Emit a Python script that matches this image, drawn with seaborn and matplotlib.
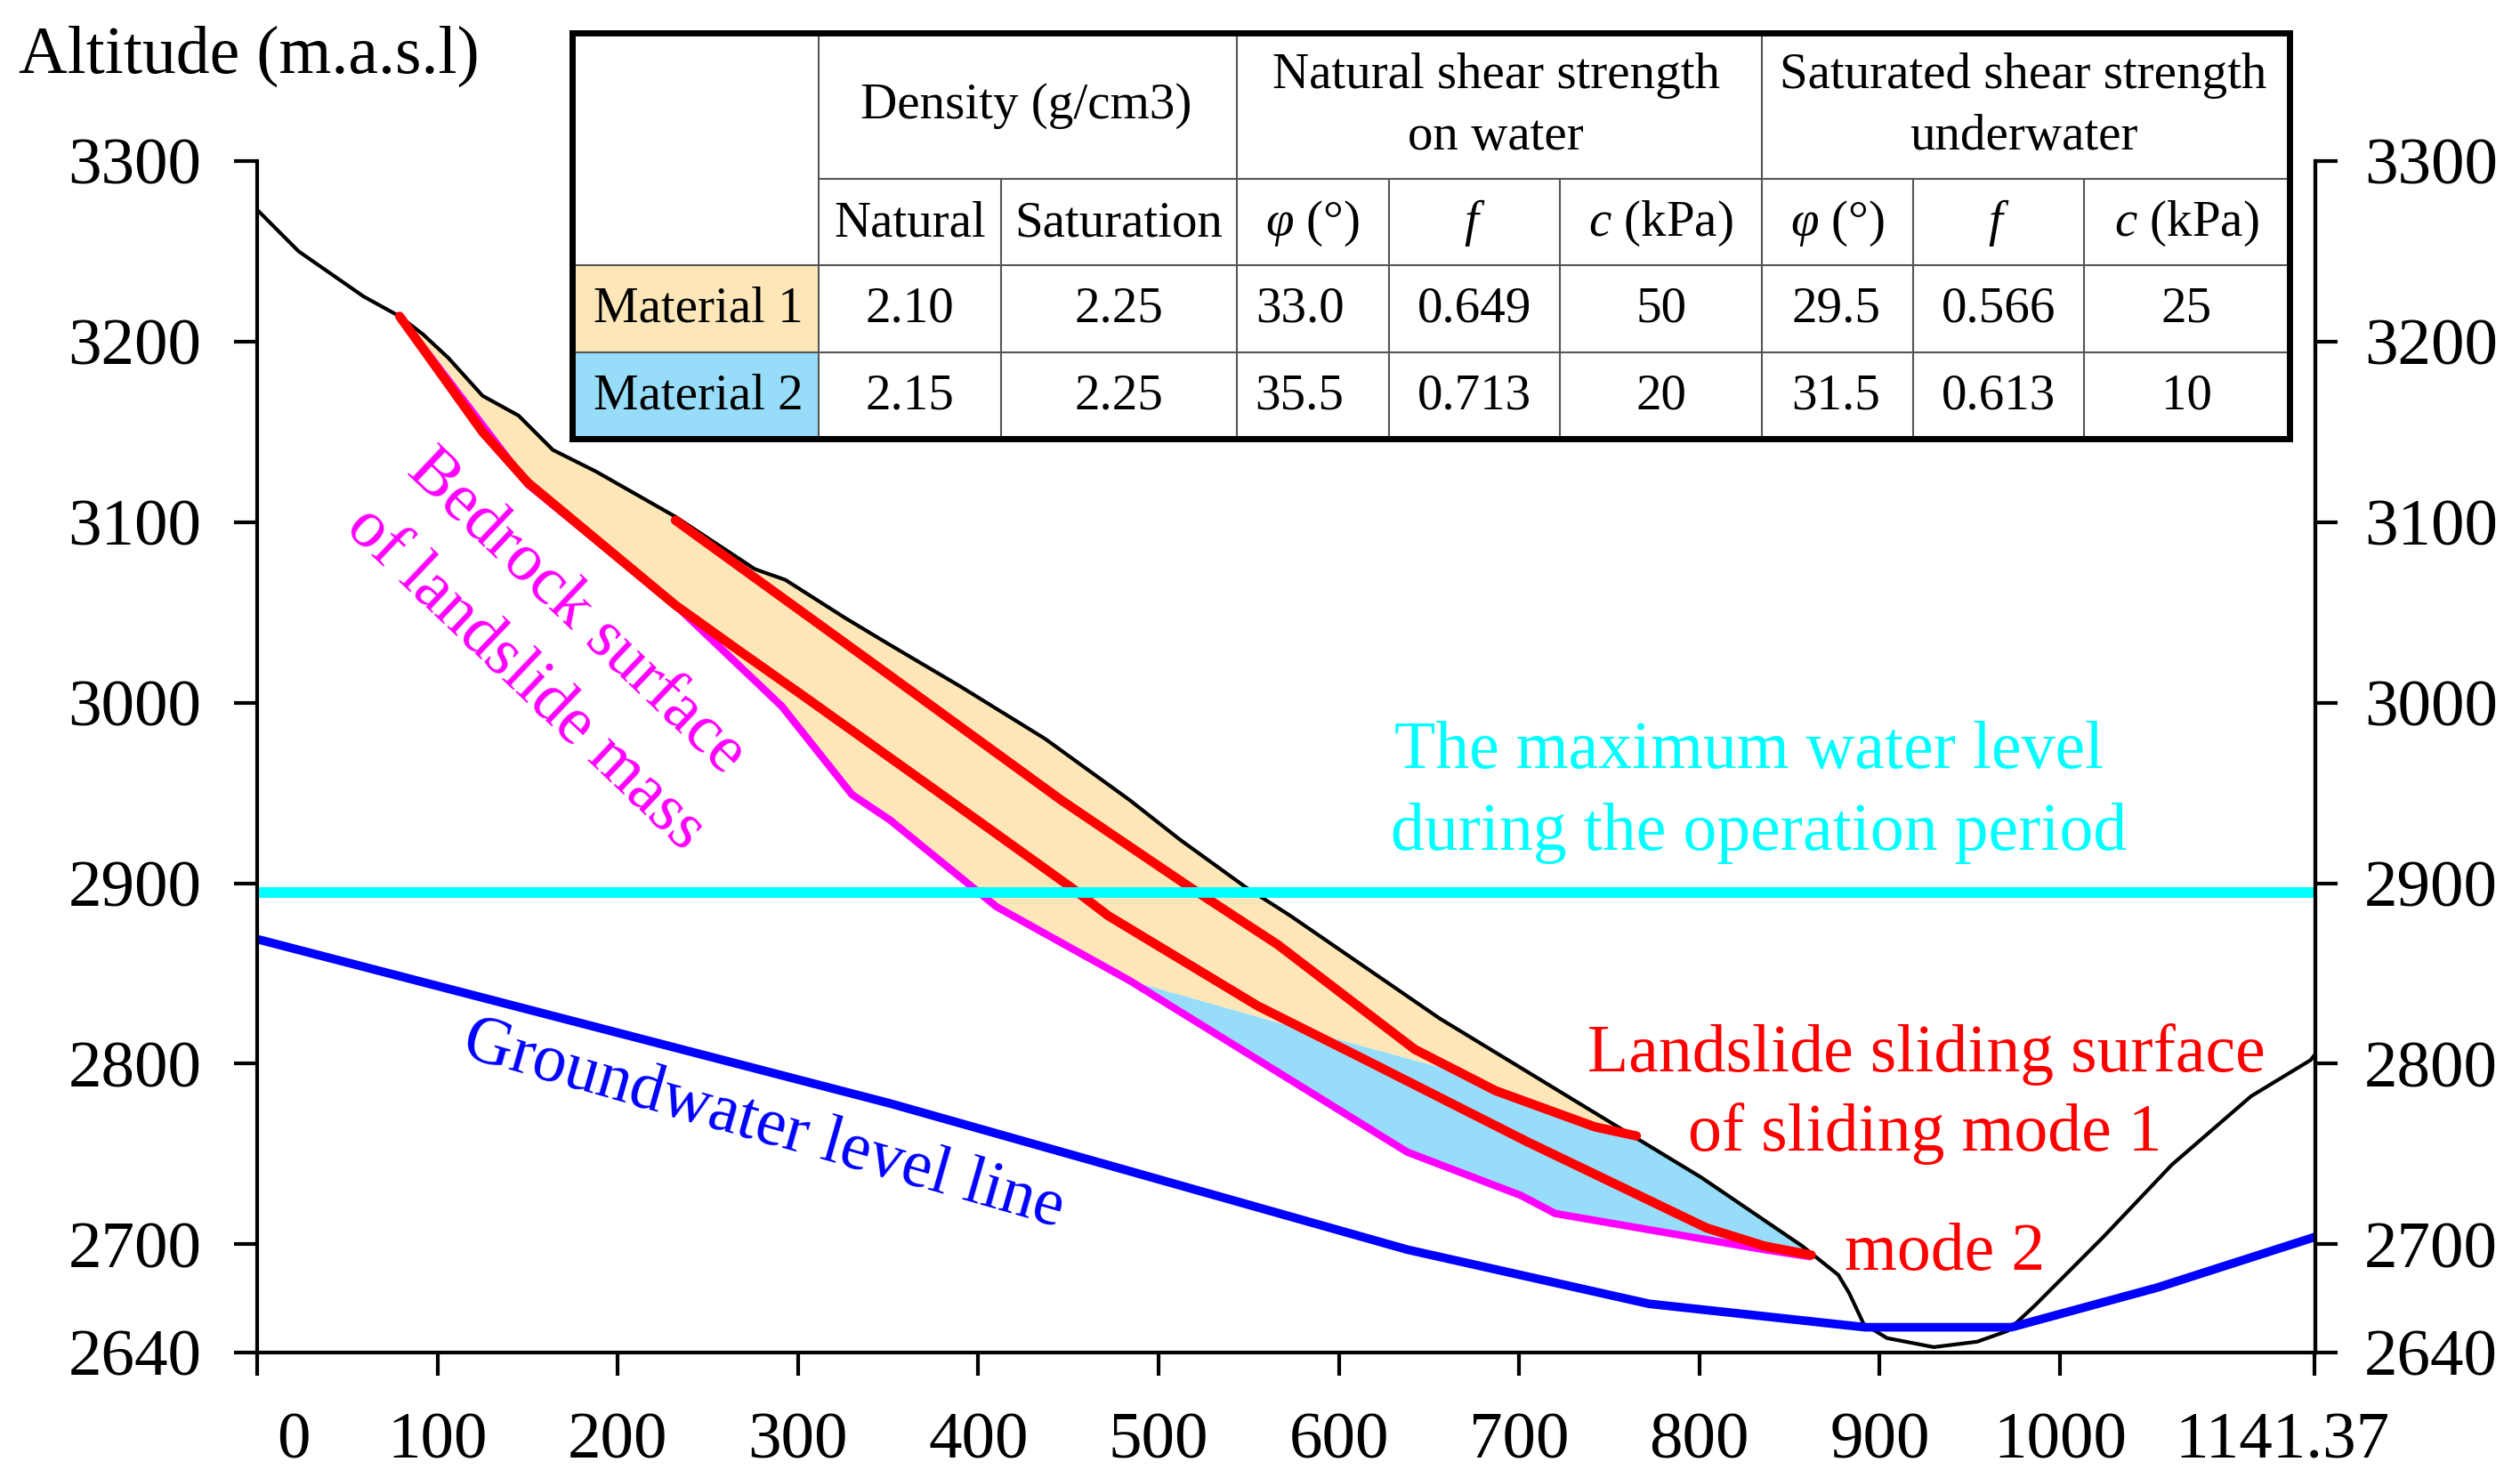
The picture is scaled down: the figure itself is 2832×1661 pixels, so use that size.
import matplotlib
matplotlib.use('Agg')
import matplotlib.pyplot as plt
from matplotlib.transforms import ScaledTranslation
import seaborn as sns

W, H = 2832, 1661

# Profile lines (distance, altitude)
terrain_x = [0, 23, 59, 79, 92, 106, 125, 145, 164, 188, 232, 276, 293, 326, 351, 390, 437, 484, 512, 548, 573, 656, 763, 801, 857, 877, 883, 891, 904, 930, 954, 971, 986, 1024, 1062, 1106, 1139, 1141.37]
terrain_y = [3273, 3250, 3225, 3214, 3204, 3191, 3170, 3159, 3140, 3128, 3103, 3074, 3068, 3047, 3032, 3009, 2980, 2946, 2924, 2898, 2882, 2825, 2760, 2737, 2699, 2683, 2673, 2656, 2648, 2643, 2646, 2652, 2666, 2704, 2744, 2782, 2802, 2805]

mode1_x = [232, 351, 446, 517, 566, 642, 687, 742, 765]
mode1_y = [3101, 3015, 2946, 2898, 2866, 2808, 2785, 2765, 2760]

mode2_x = [79, 92, 125, 150, 232, 267, 304, 377, 451, 472, 555, 611, 704, 804, 836, 862]
mode2_y = [3214, 3196, 3150, 3122, 3054, 3029, 3003, 2951, 2898, 2882, 2832, 2804, 2757, 2709, 2699, 2694]

bedrock_x = [79, 150, 232, 291, 330, 351, 410, 484, 638, 701, 720, 836, 862]
bedrock_y = [3214, 3121, 3054, 2998, 2949, 2935, 2887, 2846, 2751, 2727, 2717, 2697, 2693]

water_x = [0, 351, 638, 772, 892, 973, 1054, 1141.37]
water_y = [2869, 2778, 2697, 2667, 2654, 2654, 2676, 2704]

max_level_x = [0, 1141.37]
max_level_y = [2895, 2895]

# boundary between the two materials
split_x = [484, 590, 656]
split_y = [2846, 2816, 2798]

# table contents
materials = ['Material 1', 'Material 2']
density_natural = ['2.10', '2.15']
density_saturated = ['2.25', '2.25']
phi_natural = ['33.0', '35.5']
f_natural = ['0.649', '0.713']
c_natural = ['50', '20']
phi_saturated = ['29.5', '31.5']
f_saturated = ['0.566', '0.613']
c_saturated = ['25', '10']
sub_headers = ['Natural', 'Saturation', '$φ$ (°)', '$f$', '$c$ (kPa)', '$φ$ (°)', '$f$', '$c$ (kPa)']

x_ticks = [0, 100, 200, 300, 400, 500, 600, 700, 800, 900, 1000, 1141.37]
x_labels = ['0', '100', '200', '300', '400', '500', '600', '700', '800', '900', '1000', '1141.37']
y_ticks = [2640, 2700, 2800, 2900, 3000, 3100, 3200, 3300]

sns.set_style('ticks', rc={'text.color': 'black', 'xtick.color': 'black', 'ytick.color': 'black',
                           'axes.edgecolor': 'black', 'axes.labelcolor': 'black'})
plt.rcParams['font.family'] = ['Liberation Serif', 'DejaVu Serif']
plt.rcParams['mathtext.fontset'] = 'custom'
plt.rcParams['mathtext.rm'] = 'Liberation Serif'
plt.rcParams['mathtext.it'] = 'Liberation Serif:italic'

ORANGE = '#FDE7B9'
BLUE = '#97DDF9'

fig = plt.figure(figsize=(W / 100, H / 100), dpi=100)
ax = fig.add_axes([289 / W, 1 - 1520 / H, (2601.5 - 289) / W, (1520 - 181) / H])

# material areas
top_x = [x for x in terrain_x if 79 <= x <= 763]
top_y = [y for x, y in zip(terrain_x, terrain_y) if 79 <= x <= 763]
rock_upper = [(x, y) for x, y in zip(bedrock_x, bedrock_y) if x <= 484]
mode1_low = [(x, y) for x, y in zip(mode1_x, mode1_y) if x >= 656 or x == 642]
orange_x = top_x + [p[0] for p in mode1_low[::-1]] + split_x[::-1] + [p[0] for p in rock_upper[::-1]]
orange_y = top_y + [p[1] for p in mode1_low[::-1]] + split_y[::-1] + [p[1] for p in rock_upper[::-1]]
ax.fill(orange_x, orange_y, color=ORANGE, lw=0)

low_x = [x for x in terrain_x if 763 <= x <= 857]
low_y = [y for x, y in zip(terrain_x, terrain_y) if 763 <= x <= 857]
rock_lower = [(x, y) for x, y in zip(bedrock_x, bedrock_y) if x >= 484]
blue_x = low_x + [p[0] for p in rock_lower[::-1]] + split_x + [p[0] for p in mode1_low]
blue_y = low_y + [p[1] for p in rock_lower[::-1]] + split_y + [p[1] for p in mode1_low]
ax.fill(blue_x, blue_y, color=BLUE, lw=0)


def draw(x, y, color, lw, cap='butt'):
    sns.lineplot(x=x, y=y, color=color, linewidth=lw, sort=False, estimator=None,
                 ax=ax, solid_capstyle=cap, solid_joinstyle='round', clip_on=False)


draw(terrain_x, terrain_y, 'black', 3)
draw(bedrock_x, bedrock_y, '#FF00FF', 6)
draw(mode1_x, mode1_y, '#FF0000', 7.5, 'round')
draw(mode2_x, mode2_y, '#FF0000', 7.5, 'round')
draw(max_level_x, max_level_y, '#00FFFF', 8.6)
draw(water_x, water_y, '#0000FF', 7)

ax.set_xlim(0, 1141.37)
ax.set_ylim(2640, 3300)
ax.set_xticks(x_ticks)
ax.set_xticklabels(x_labels)
ax.set_yticks(y_ticks)
ax.set_xlabel('')
ax.set_ylabel('')
ax.tick_params(axis='y', direction='out', length=19, width=3, labelsize=54, pad=26)
ax.tick_params(axis='x', direction='out', length=19, width=3, labelsize=54, pad=29)
for name in ['left', 'bottom', 'right']:
    ax.spines[name].set_linewidth(3)
    ax.spines[name].set_visible(True)
ax.spines['top'].set_visible(False)

# first and last x labels sit inside their ticks
tick_labels = ax.get_xticklabels()
tick_labels[0].set_transform(tick_labels[0].get_transform() + ScaledTranslation(41 / 100, 0, fig.dpi_scale_trans))
tick_labels[-1].set_transform(tick_labels[-1].get_transform() + ScaledTranslation(-37 / 100, 0, fig.dpi_scale_trans))

ax_r = ax.twinx()
ax_r.set_ylim(2640, 3300)
ax_r.set_yticks(y_ticks)
ax_r.tick_params(axis='y', direction='out', length=18, width=3, labelsize=54, pad=22)
ax_r.spines['top'].set_visible(False)
ax_r.spines['right'].set_linewidth(3)

fig.text(21 / W, 1 - 82 / H, 'Altitude (m.a.s.l)', fontsize=54.5, ha='left', va='baseline')

# annotations
ax.text(827.5, 2964, 'The maximum water level', color='#00FFFF', fontsize=54.5, ha='center', va='baseline')
ax.text(833, 2918.7, 'during the operation period', color='#00FFFF', fontsize=54.5, ha='center', va='baseline')
ax.text(926, 2796, 'Landslide sliding surface', color='#FF0000', fontsize=54.5, ha='center', va='baseline')
ax.text(925, 2752, 'of sliding mode 1', color='#FF0000', fontsize=54.5, ha='center', va='baseline')
ax.text(936, 2686, 'mode 2', color='#FF0000', fontsize=54.5, ha='center', va='baseline')
ax.text(177, 3050, 'Bedrock surface', color='#FF00FF', fontsize=54.5, ha='center', va='center',
        rotation=-43.5, rotation_mode='anchor')
ax.text(148.6, 3013, 'of landslide mass', color='#FF00FF', fontsize=54.5, ha='center', va='center',
        rotation=-43.5, rotation_mode='anchor')
ax.text(281, 2766, 'Groundwater level line', color='#0000FF', fontsize=54.5, ha='center', va='center',
        rotation=-16, rotation_mode='anchor')

# table, laid out in figure pixels
left, right, top, bottom = 643, 2573, 37, 493
tab = fig.add_axes([left / W, 1 - bottom / H, (right - left) / W, (bottom - top) / H])
tab.set_xlim(left, right)
tab.set_ylim(bottom, top)
tab.set_xticks([])
tab.set_yticks([])
for spine in tab.spines.values():
    spine.set_visible(True)
    spine.set_linewidth(5)
    spine.set_color('black')

col_x = [left, 920, 1125, 1390, 1561, 1753, 1980, 2150, 2342, right]
row_y = [top, 201, 298, 396, bottom]
tab.fill_between([left, col_x[1]], row_y[2], row_y[3], color=ORANGE, lw=0)
tab.fill_between([left, col_x[1]], row_y[3], row_y[4], color=BLUE, lw=0)

GRID = '#555555'
tab.hlines(row_y[1], col_x[1], right, color=GRID, lw=1.5)
tab.hlines(row_y[2:4], left, right, color=GRID, lw=1.5)
tab.vlines([col_x[1], col_x[3], col_x[6]], top, bottom, color=GRID, lw=1.5)
tab.vlines([col_x[2], col_x[4], col_x[5], col_x[7], col_x[8]], row_y[1], bottom, color=GRID, lw=1.5)

FS = 41
tab.text(1153, 133, 'Density (g/cm3)', fontsize=FS, ha='center', va='baseline')
tab.text(1681, 99, 'Natural shear strength', fontsize=FS, ha='center', va='baseline')
tab.text(1681, 168, 'on water', fontsize=FS, ha='center', va='baseline')
tab.text(2274, 99, 'Saturated shear strength', fontsize=FS, ha='center', va='baseline')
tab.text(2274, 168, 'underwater', fontsize=FS, ha='center', va='baseline')
for i, label in enumerate(sub_headers):
    tab.text((col_x[i + 1] + col_x[i + 2]) / 2, 265, label, fontsize=FS, ha='center', va='baseline')

columns = [materials, density_natural, density_saturated, phi_natural, f_natural,
           c_natural, phi_saturated, f_saturated, c_saturated]
row_base = [362, 460]
col_shift = [3, 0, 0, -15, 0, 0, -2, 0, 0]
for c, values in enumerate(columns):
    for r, value in enumerate(values):
        tab.text((col_x[c] + col_x[c + 1]) / 2 + col_shift[c], row_base[r], value,
                 fontsize=FS, ha='center', va='baseline')

fig.savefig('out.png', dpi=100, facecolor='white')
